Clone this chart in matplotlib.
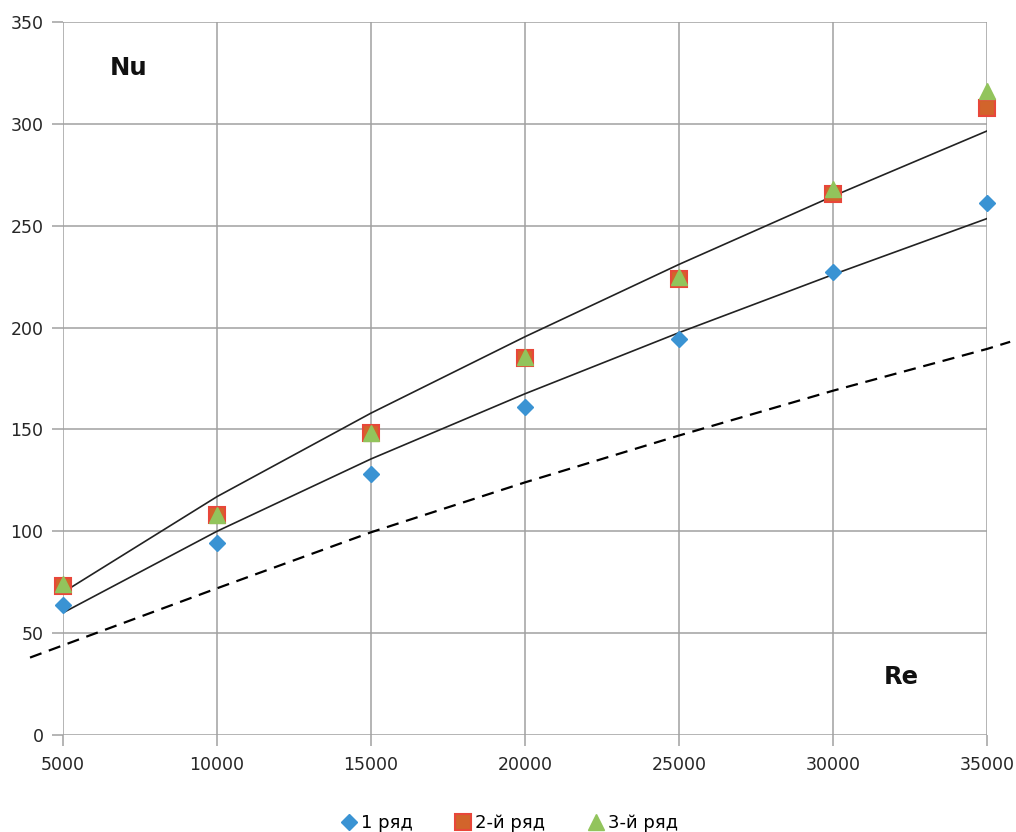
import matplotlib
matplotlib.use("Agg")
import matplotlib.pyplot as plt
from matplotlib.lines import Line2D

plt.rcParams['font.family'] = ['DejaVu Sans']

# данные
re = [5000, 10000, 15000, 20000, 25000, 30000, 35000]
row1 = [64, 94, 128, 161, 194.5, 227.5, 261]
row2 = [73, 108, 148, 185, 224, 265.5, 308]
row3 = [74, 108, 148, 185.5, 225, 268, 316]

# линии тренда
trend_upper = [70, 117, 158, 195.5, 231, 264.5, 296.5]
trend_lower = [60, 100, 135.5, 167.5, 197.5, 226, 253.5]

# пунктир
re_dash = [3930, 5000, 10000, 15000, 20000, 25000, 30000, 35000, 35750]
nu_dash = [38, 44, 72, 99.5, 124, 147, 169, 189.5, 193]

yticks = [0, 50, 100, 150, 200, 250, 300, 350]

fig = plt.figure(figsize=(10.16, 8.32), dpi=100)
ax = fig.add_axes([0.062, 0.1166, 0.9095, 0.857])

grid_c = '#a0a0a0'
for x in re:
    ax.axvline(x, color=grid_c, lw=1.1, zorder=0)
for y in yticks:
    ax.axhline(y, color=grid_c, lw=1.1, zorder=0)
for s in ax.spines.values():
    s.set_visible(False)

ax.plot(re, trend_upper, color='#222222', lw=1.2, zorder=2)
ax.plot(re, trend_lower, color='#222222', lw=1.2, zorder=2)
ax.plot(re_dash, nu_dash, color='black', lw=1.6, ls=(0, (5.5, 3.5)),
        clip_on=False, zorder=2)

ax.plot(re, row1, 'D', color='#3a93d3', ms=8.5, mec='#3a93d3', zorder=3, clip_on=False)
ax.plot(re, row2, 's', color='#d2642b', ms=11.5, mec='#e8473a', mew=1.5, zorder=3, clip_on=False)
ax.plot(re, row3, '^', color='#92c45c', ms=11, mec='#92c45c', zorder=4, clip_on=False)

ax.set_xlim(5000, 35000)
ax.set_ylim(0, 350)
ax.set_xticks(re)
ax.set_yticks(yticks)
ax.tick_params(axis='both', length=8, width=1.1, color=grid_c,
               labelsize=12.5, labelcolor='#262626')
ax.tick_params(axis='x', pad=7)
ax.tick_params(axis='y', pad=6)

ax.text(0.051, 0.935, 'Nu', transform=ax.transAxes, fontsize=17.5,
        fontweight='bold', color='#111111', ha='left', va='center')
ax.text(0.888, 0.081, 'Re', transform=ax.transAxes, fontsize=17.5,
        fontweight='bold', color='#111111', ha='left', va='center')

handles = [
    Line2D([], [], ls='none', marker='D', color='#3a93d3', ms=8.5),
    Line2D([], [], ls='none', marker='s', color='#d2642b', mec='#e8473a', mew=1.5, ms=11.5),
    Line2D([], [], ls='none', marker='^', color='#92c45c', ms=11),
]
fig.legend(handles, ['1 ряд', '2-й ряд', '3-й ряд'], loc='center',
           bbox_to_anchor=(0.5, 1 - 823 / 832), ncol=3, frameon=False,
           fontsize=13, handletextpad=0.05, columnspacing=2.2,
           handlelength=1.2)

fig.savefig('out.png', dpi=100)
